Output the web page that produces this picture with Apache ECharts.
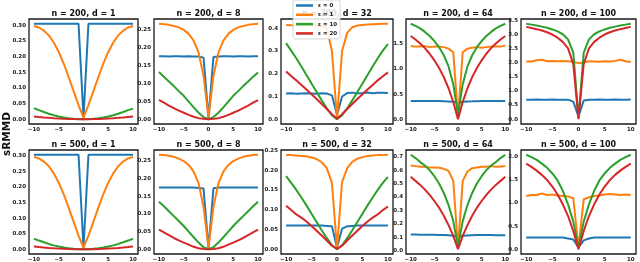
<!DOCTYPE html>
<html><head><meta charset="utf-8">
<script src="https://cdn.jsdelivr.net/npm/echarts@6/dist/echarts.min.js"></script>
<style>html,body{margin:0;padding:0;background:#fff}#c{width:640px;height:262px}</style>
</head><body><div id="c"></div>
<script>
// ---- data ----
const xs = [-10,-9,-8,-7,-6,-5,-4,-3,-2,-1,0,1,2,3,4,5,6,7,8,9,10];
const seriesNames = ['ε = 0','ε = 1','ε = 10','ε = 20'];
const panelTitles = ['n = 200, d = 1','n = 200, d = 8','n = 200, d = 32','n = 200, d = 64','n = 200, d = 100',
                     'n = 500, d = 1','n = 500, d = 8','n = 500, d = 32','n = 500, d = 64','n = 500, d = 100'];
const xTicks = [-10,-5,0,5,10];
const yTicks_d1 = [0,0.05,0.10,0.15,0.20,0.25,0.30];
const yTicks_d8 = [0,0.05,0.10,0.15,0.20,0.25];
const yTicks_n200_d32 = [0,0.1,0.2,0.3,0.4];
const yTicks_n200_d64 = [0,0.5,1.0,1.5];
const yTicks_n200_d100 = [0,0.5,1.0,1.5,2.0,2.5,3.0,3.5];
const yTicks_n500_d32 = [0,0.05,0.10,0.15,0.20,0.25];
const yTicks_n500_d64 = [0,0.1,0.2,0.3,0.4,0.5,0.6,0.7];
const yTicks_n500_d100 = [0,0.5,1.0,1.5,2.0];

const n200_d1_e0  = [0.305,0.305,0.305,0.305,0.305,0.305,0.305,0.305,0.305,0.305,0.005,0.305,0.305,0.305,0.305,0.305,0.305,0.305,0.305,0.305,0.305];
const n200_d1_e1  = [0.298,0.293,0.283,0.268,0.245,0.215,0.178,0.135,0.090,0.045,0.005,0.045,0.090,0.135,0.178,0.215,0.245,0.268,0.283,0.293,0.298];
const n200_d1_e10 = [0.035,0.029,0.023,0.0175,0.0128,0.0088,0.0056,0.0032,0.0014,0.0004,0.0,0.0004,0.0014,0.0032,0.0056,0.0088,0.0128,0.0175,0.023,0.029,0.034];
const n200_d1_e20 = [0.009,0.0073,0.0058,0.0044,0.0032,0.0022,0.0014,0.0008,0.0004,0.0001,0.0,0.0001,0.0004,0.0008,0.0014,0.0022,0.0032,0.0044,0.0058,0.0073,0.0088];

const n200_d8_e0  = [0.175,0.175,0.174,0.175,0.175,0.174,0.175,0.174,0.174,0.171,0.003,0.173,0.174,0.175,0.175,0.174,0.175,0.175,0.174,0.175,0.175];
const n200_d8_e1  = [0.265,0.264,0.262,0.259,0.255,0.248,0.237,0.218,0.185,0.120,0.005,0.120,0.185,0.218,0.237,0.248,0.255,0.259,0.262,0.264,0.265];
const n200_d8_e10 = [0.131,0.118,0.105,0.092,0.078,0.065,0.049,0.033,0.018,0.006,0.0,0.006,0.018,0.033,0.049,0.065,0.078,0.092,0.105,0.118,0.130];
const n200_d8_e20 = [0.054,0.046,0.038,0.031,0.024,0.018,0.012,0.007,0.003,0.001,0.0,0.001,0.003,0.007,0.012,0.018,0.024,0.031,0.038,0.046,0.053];

const n200_d32_e0  = [0.113,0.114,0.112,0.113,0.114,0.113,0.112,0.114,0.113,0.105,0.020,0.100,0.115,0.117,0.113,0.115,0.118,0.114,0.116,0.117,0.115];
const n200_d32_e1  = [0.415,0.413,0.412,0.414,0.413,0.413,0.412,0.410,0.400,0.300,0.005,0.300,0.380,0.405,0.412,0.415,0.417,0.418,0.419,0.420,0.420];
const n200_d32_e10 = [0.335,0.302,0.268,0.232,0.195,0.157,0.120,0.083,0.048,0.018,0.0,0.018,0.048,0.083,0.120,0.157,0.195,0.232,0.268,0.302,0.330];
const n200_d32_e20 = [0.210,0.190,0.171,0.151,0.131,0.110,0.089,0.067,0.045,0.022,0.002,0.022,0.045,0.067,0.089,0.110,0.131,0.151,0.171,0.189,0.206];

const n200_d64_e0  = [0.370,0.370,0.368,0.370,0.369,0.370,0.368,0.365,0.360,0.355,0.330,0.355,0.360,0.362,0.365,0.368,0.370,0.369,0.370,0.370,0.370];
const n200_d64_e1  = [1.45,1.44,1.44,1.45,1.43,1.44,1.44,1.43,1.40,1.33,0.05,1.33,1.40,1.42,1.43,1.42,1.43,1.44,1.44,1.44,1.46];
const n200_d64_e10 = [1.89,1.85,1.80,1.73,1.65,1.55,1.43,1.27,1.05,0.70,0.10,0.70,1.05,1.27,1.43,1.55,1.65,1.73,1.80,1.85,1.89];
const n200_d64_e20 = [1.65,1.58,1.50,1.41,1.30,1.17,1.02,0.84,0.62,0.35,0.01,0.35,0.62,0.84,1.02,1.17,1.30,1.41,1.50,1.58,1.65];

const n200_d100_e0  = [0.69,0.69,0.70,0.69,0.69,0.70,0.69,0.69,0.69,0.62,0.10,0.66,0.69,0.69,0.70,0.69,0.69,0.70,0.69,0.69,0.70];
const n200_d100_e1  = [2.04,2.04,2.08,2.10,2.05,2.06,2.05,2.06,2.05,2.03,1.98,2.00,2.05,2.04,2.03,2.05,2.04,2.06,2.10,2.05,2.02];
const n200_d100_e10 = [3.37,3.34,3.31,3.27,3.23,3.17,3.10,3.00,2.82,2.35,0.05,2.35,2.82,3.00,3.10,3.17,3.23,3.27,3.31,3.34,3.37];
const n200_d100_e20 = [3.26,3.22,3.18,3.13,3.07,2.99,2.88,2.73,2.50,1.95,0.00,1.95,2.50,2.73,2.88,2.99,3.07,3.13,3.18,3.22,3.26];

const n500_d1_e0  = [0.304,0.304,0.304,0.304,0.304,0.304,0.304,0.304,0.304,0.304,0.005,0.304,0.304,0.304,0.304,0.304,0.304,0.304,0.304,0.304,0.304];
const n500_d1_e1  = [0.297,0.292,0.282,0.267,0.244,0.214,0.177,0.134,0.089,0.044,0.005,0.044,0.089,0.134,0.177,0.214,0.244,0.267,0.282,0.292,0.297];
const n500_d1_e10 = [0.034,0.028,0.0225,0.0172,0.0126,0.0087,0.0055,0.0031,0.0014,0.0004,0.0,0.0004,0.0014,0.0031,0.0055,0.0087,0.0126,0.0172,0.0225,0.028,0.034];
const n500_d1_e20 = [0.009,0.0073,0.0058,0.0044,0.0032,0.0022,0.0014,0.0008,0.0004,0.0001,0.0,0.0001,0.0004,0.0008,0.0014,0.0022,0.0032,0.0044,0.0058,0.0073,0.009];

const n500_d8_e0  = [0.175,0.175,0.175,0.175,0.175,0.175,0.175,0.175,0.174,0.172,0.003,0.173,0.175,0.175,0.175,0.175,0.175,0.175,0.175,0.175,0.175];
const n500_d8_e1  = [0.268,0.267,0.265,0.262,0.257,0.250,0.239,0.220,0.187,0.120,0.005,0.120,0.187,0.220,0.239,0.250,0.257,0.262,0.265,0.267,0.268];
const n500_d8_e10 = [0.135,0.122,0.108,0.094,0.080,0.066,0.050,0.034,0.019,0.006,0.0,0.006,0.019,0.034,0.050,0.066,0.080,0.094,0.108,0.122,0.135];
const n500_d8_e20 = [0.056,0.048,0.040,0.032,0.025,0.019,0.013,0.007,0.003,0.001,0.0,0.001,0.003,0.007,0.013,0.019,0.025,0.032,0.040,0.048,0.056];

const n500_d32_e0  = [0.060,0.060,0.060,0.060,0.060,0.060,0.060,0.060,0.059,0.058,0.005,0.052,0.058,0.059,0.060,0.060,0.060,0.060,0.060,0.060,0.060];
const n500_d32_e1  = [0.238,0.238,0.237,0.236,0.235,0.232,0.228,0.220,0.205,0.168,0.003,0.170,0.205,0.221,0.229,0.233,0.236,0.237,0.238,0.238,0.239];
const n500_d32_e10 = [0.185,0.168,0.150,0.131,0.111,0.090,0.069,0.048,0.028,0.010,0.0,0.010,0.028,0.048,0.069,0.090,0.111,0.131,0.150,0.168,0.183];
const n500_d32_e20 = [0.110,0.099,0.088,0.080,0.070,0.059,0.047,0.035,0.022,0.009,0.001,0.009,0.022,0.035,0.047,0.059,0.070,0.080,0.088,0.099,0.108];

const n500_d64_e0  = [0.120,0.120,0.119,0.119,0.118,0.118,0.117,0.116,0.114,0.110,0.105,0.110,0.113,0.115,0.116,0.116,0.116,0.116,0.115,0.115,0.115];
const n500_d64_e1  = [0.635,0.630,0.625,0.625,0.620,0.620,0.618,0.610,0.595,0.520,0.020,0.520,0.590,0.615,0.620,0.625,0.625,0.630,0.625,0.628,0.630];
const n500_d64_e10 = [0.715,0.690,0.660,0.635,0.600,0.555,0.500,0.430,0.340,0.220,0.030,0.220,0.340,0.430,0.500,0.555,0.600,0.635,0.660,0.690,0.715];
const n500_d64_e20 = [0.550,0.520,0.490,0.455,0.415,0.370,0.320,0.260,0.190,0.110,0.010,0.110,0.190,0.260,0.320,0.370,0.415,0.455,0.490,0.520,0.550];

const n500_d100_e0  = [0.26,0.26,0.26,0.26,0.26,0.26,0.26,0.26,0.24,0.22,0.05,0.20,0.24,0.26,0.26,0.26,0.26,0.26,0.26,0.26,0.26];
const n500_d100_e1  = [1.15,1.17,1.17,1.20,1.17,1.18,1.16,1.15,1.14,1.10,0.05,1.08,1.12,1.15,1.16,1.18,1.19,1.18,1.17,1.18,1.17];
const n500_d100_e10 = [2.03,1.98,1.92,1.84,1.75,1.63,1.48,1.26,0.97,0.60,0.05,0.60,0.97,1.26,1.48,1.63,1.75,1.84,1.92,1.98,2.03];
const n500_d100_e20 = [1.84,1.77,1.69,1.60,1.49,1.35,1.18,0.97,0.72,0.40,0.01,0.40,0.72,0.97,1.18,1.35,1.49,1.60,1.69,1.77,1.84];

// ---- build ----
const panels = [
  {d:[n200_d1_e0,n200_d1_e1,n200_d1_e10,n200_d1_e20], t:yTicks_d1, dec:2},
  {d:[n200_d8_e0,n200_d8_e1,n200_d8_e10,n200_d8_e20], t:yTicks_d8, dec:2},
  {d:[n200_d32_e0,n200_d32_e1,n200_d32_e10,n200_d32_e20], t:yTicks_n200_d32, dec:1},
  {d:[n200_d64_e0,n200_d64_e1,n200_d64_e10,n200_d64_e20], t:yTicks_n200_d64, dec:1},
  {d:[n200_d100_e0,n200_d100_e1,n200_d100_e10,n200_d100_e20], t:yTicks_n200_d100, dec:1},
  {d:[n500_d1_e0,n500_d1_e1,n500_d1_e10,n500_d1_e20], t:yTicks_d1, dec:2},
  {d:[n500_d8_e0,n500_d8_e1,n500_d8_e10,n500_d8_e20], t:yTicks_d8, dec:2},
  {d:[n500_d32_e0,n500_d32_e1,n500_d32_e10,n500_d32_e20], t:yTicks_n500_d32, dec:2},
  {d:[n500_d64_e0,n500_d64_e1,n500_d64_e10,n500_d64_e20], t:yTicks_n500_d64, dec:1},
  {d:[n500_d100_e0,n500_d100_e1,n500_d100_e10,n500_d100_e20], t:yTicks_n500_d100, dec:1}
];
const colors = ['#1f77b4','#ff7f0e','#2ca02c','#d62728'];
const colLeft = [29,154,281,406,521];
const colW = [109,109,112,104,115];
const rowTop = [19,150];
const rowH = [105,104];
const FONT = 'DejaVu Sans';

const grid=[], xAxis=[], yAxis=[], series=[], graphic=[];
panels.forEach((p,i)=>{
  const c=i%5, r=Math.floor(i/5);
  grid.push({left:colLeft[c], top:rowTop[r], width:colW[c], height:rowH[r], show:true,
    borderColor:'#1a1a1a', borderWidth:1.3, backgroundColor:'transparent', containLabel:false, outerBoundsMode:'none'});
  let mn=Infinity, mx=-Infinity;
  p.d.forEach(a=>a.forEach(v=>{mn=Math.min(mn,v); mx=Math.max(mx,v);}));
  const pad=(mx-mn)*0.05;
  xAxis.push({type:'value', gridIndex:i, min:-11, max:11,
    axisLine:{show:false}, axisTick:{show:false}, splitLine:{show:false},
    axisLabel:{customValues:xTicks, formatter:v=>String(v).replace('-','\u2212'),
      fontSize:5.5, fontWeight:'bold', color:'#222', margin:3, fontFamily:FONT}});
  yAxis.push({type:'value', gridIndex:i, min:mn-pad, max:mx+pad,
    axisLine:{show:false}, axisTick:{show:false}, splitLine:{show:false},
    axisLabel:{customValues:p.t, formatter:v=>v.toFixed(p.dec),
      fontSize:5.5, fontWeight:'bold', color:'#222', margin:3, fontFamily:FONT}});
  p.d.forEach((arr,k)=>{
    series.push({type:'line', name:seriesNames[k], xAxisIndex:i, yAxisIndex:i,
      data:xs.map((x,j)=>[x,arr[j]]), symbol:'none', showSymbol:false,
      lineStyle:{width:2, color:colors[k]}, itemStyle:{color:colors[k]}, z:2+k, animation:false});
  });
  graphic.push({type:'text', x:colLeft[c]+colW[c]/2, y:rowTop[r]-5, z:1,
    style:{text:panelTitles[i], font:'bold 8px "DejaVu Sans"', fill:'#111', textAlign:'center', textVerticalAlign:'middle'}});
});
graphic.push({type:'text', x:7, y:134, rotation:Math.PI/2, z:1,
  style:{text:'sRMMD', font:'bold 10.5px "DejaVu Sans"', fill:'#111', textAlign:'center', textVerticalAlign:'middle'}});

const chart = echarts.init(document.getElementById('c'), null, {renderer:'canvas'});
chart.setOption({
  animation:false,
  backgroundColor:'#fff',
  grid, xAxis, yAxis, series, graphic,
  legend:{orient:'vertical', left:293, top:0, z:20, zlevel:0,
    data:seriesNames.map(n=>({name:n, icon:'rect'})),
    itemWidth:17, itemHeight:2.5, itemGap:2.3,
    padding:[2,3,2,3], backgroundColor:'rgba(255,255,255,0.85)', borderColor:'#ccc', borderWidth:0.8, borderRadius:2,
    textStyle:{fontSize:5.5, fontWeight:'bold', color:'#222', fontFamily:FONT, lineHeight:7}}
});
</script>
</body></html>
